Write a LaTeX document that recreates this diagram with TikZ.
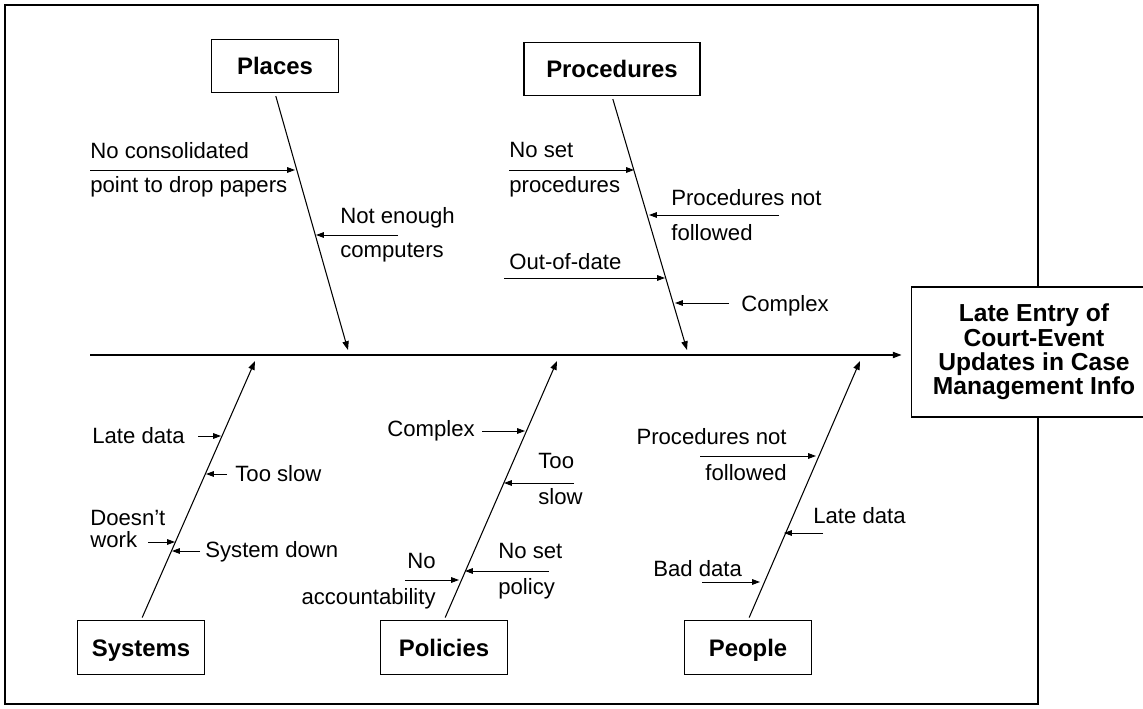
\documentclass[tikz,border=0pt]{standalone}
\usepackage{fontspec}
\setmainfont{Liberation Sans}
\usetikzlibrary{arrows.meta}

\tikzset{
  cat/.style={draw, line width=0.6pt, minimum width=2.53cm, minimum height=1.07cm,
    inner sep=0pt, text height=9.7pt, text depth=0pt,
    font=\bfseries\fontsize{13.6}{16}\selectfont},
  bone/.style={line width=0.6pt, shorten <=1.7pt, -{Triangle[length=5pt,width=3.6pt]}},
  twig/.style={line width=0.55pt, -{Triangle[length=4.5pt,width=3.2pt]}},
  why/.style={inner sep=0pt, font=\fontsize{12.6}{20}\selectfont},
}

\begin{document}
\begin{tikzpicture}[x=0.02cm, y=-0.02cm]
\useasboundingbox (0,0) rectangle (1143,709);
\draw[line width=1.1pt] (5,5) rectangle (1038,704);

% categories
\node[cat] (places) at (275,66) {Places};
\node[cat, minimum width=3.52cm] (procs) at (612,69) {Procedures};
\node[cat] (systems) at (141,647.5) {Systems};
\node[cat] (policies) at (444,647.5) {Policies};
\node[cat] (people) at (748,647.5) {People};
\node[draw, fill=white, line width=0.6pt, minimum width=4.92cm, minimum height=2.6cm,
  align=center, font=\bfseries\fontsize{14}{13.9}\selectfont] (effect) at (1034,352)
  {Late Entry of\\Court-Event\\Updates in Case\\Management Info};

% spine and bones
\coordinate (tail) at (90,355);
\coordinate (placesend) at (348,350);
\coordinate (procsend) at (687,350);
\coordinate (systemsend) at (255,361);
\coordinate (policiesend) at (557,361);
\coordinate (peopleend) at (860,361);
\draw[line width=0.65pt, shorten >=5.1pt, -{Triangle[length=5pt,width=3.6pt]}]
  (tail) -- (tail -| effect.west);
\draw
  (places.south) edge[bone] (placesend)
  (procs.south) edge[bone] (procsend)
  (systems.north) edge[bone] (systemsend)
  (policies.north) edge[bone] (policiesend)
  (people.north) edge[bone] (peopleend)
  ;

% places
\coordinate (pl1a) at (90,170);  \coordinate (pl1b) at (295,170);
\coordinate (pl2a) at (398,235); \coordinate (pl2b) at (316,235);
\node[why, anchor=west, align=left, font=\fontsize{12.6}{19.3}\selectfont] (pl1) at (90,170)
  {No consolidated\\point to drop papers};
\node[why, anchor=west, align=left, font=\fontsize{12.6}{19.3}\selectfont] (pl2) at (340,235)
  {Not enough\\computers};

% procedures
\coordinate (pr1a) at (509,170); \coordinate (pr1b) at (634,170);
\coordinate (pr2a) at (779,215); \coordinate (pr2b) at (649,215);
\coordinate (pr3a) at (504,278); \coordinate (pr3b) at (665,278);
\coordinate (pr4a) at (729,303); \coordinate (pr4b) at (675,303);
\node[why, anchor=west, align=left] (pr1) at (509,170) {No set\\procedures};
\node[why, anchor=west, align=left] (pr2) at (671,215) {Procedures not\\followed};
\node[why, anchor=base west] (pr3) at (509,270) {Out-of-date};
\node[why, anchor=base west] (pr4) at (741,312) {Complex};

% systems
\coordinate (sy1a) at (198,436); \coordinate (sy1b) at (221,436);
\coordinate (sy2a) at (227,474); \coordinate (sy2b) at (206,474);
\coordinate (sy3a) at (148,542); \coordinate (sy3b) at (175,542);
\coordinate (sy4a) at (200,551); \coordinate (sy4b) at (172,551);
\node[why, anchor=base west] (sy1) at (92,443) {Late data};
\node[why, anchor=base west] (sy2) at (235,481) {Too slow};
\node[why, anchor=west, align=left, font=\fontsize{12.6}{12.5}\selectfont] (sy3) at (90,529)
  {Doesn’t\\work};
\node[why, anchor=base west] (sy4) at (205,557) {System down};

% policies
\coordinate (po1a) at (482,431); \coordinate (po1b) at (525,431);
\coordinate (po2a) at (574,483); \coordinate (po2b) at (504,483);
\coordinate (po3a) at (405,580); \coordinate (po3b) at (459,580);
\coordinate (po4a) at (549,571); \coordinate (po4b) at (465,571);
\node[why, anchor=base west] (po1) at (387,437) {Complex};
\node[why, anchor=west, align=left, font=\fontsize{12.6}{20.4}\selectfont] (po2) at (538,479)
  {Too\\slow};
\node[why, anchor=east, align=right, font=\fontsize{12.6}{20.4}\selectfont] (po3) at (436,581)
  {No\\accountability};
\node[why, anchor=west, align=left, font=\fontsize{12.6}{20.4}\selectfont] (po4) at (498,571)
  {No set\\policy};

% people
\coordinate (pe1a) at (700,456); \coordinate (pe1b) at (816,456);
\coordinate (pe2a) at (823,533); \coordinate (pe2b) at (784,533);
\coordinate (pe3a) at (702,582); \coordinate (pe3b) at (760,582);
\node[why, anchor=east, align=right, font=\fontsize{12.6}{20.4}\selectfont] (pe1) at (787,455)
  {Procedures not\\followed};
\node[why, anchor=base west] (pe2) at (813,523) {Late data};
\node[why, anchor=base west] (pe3) at (653,576) {Bad data};

\draw
  (pl1a) edge[twig] (pl1b)  (pl2a) edge[twig] (pl2b)
  (pr1a) edge[twig] (pr1b)  (pr2a) edge[twig] (pr2b)
  (pr3a) edge[twig] (pr3b)  (pr4a) edge[twig] (pr4b)
  (sy1a) edge[twig] (sy1b)  (sy2a) edge[twig] (sy2b)
  (sy3a) edge[twig] (sy3b)  (sy4a) edge[twig] (sy4b)
  (po1a) edge[twig] (po1b)  (po2a) edge[twig] (po2b)
  (po3a) edge[twig] (po3b)  (po4a) edge[twig] (po4b)
  (pe1a) edge[twig] (pe1b)  (pe2a) edge[twig] (pe2b)
  (pe3a) edge[twig] (pe3b)
  ;
\end{tikzpicture}
\end{document}
